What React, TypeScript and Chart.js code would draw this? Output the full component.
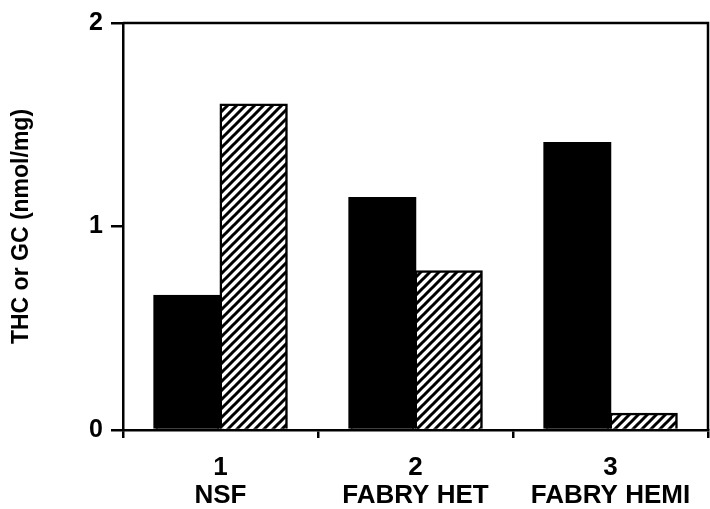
import { useEffect, useRef } from "react";
import { Chart, registerables } from "chart.js";

Chart.register(...registerables);

// Group labels (number over name) and the two measured lipids per group
const groupNumbers = ["1", "2", "3"];
const groupNames = ["NSF", "FABRY HET", "FABRY HEMI"];
const thcValues = [0.66, 1.14, 1.41];
const gcValues = [1.6, 0.78, 0.08];
const yTicks = [0, 1, 2];
const yTitle = "THC or GC (nmol/mg)";

const FONT = "'Liberation Sans', Arial, Helvetica, sans-serif";

// Diagonal "/" hatching used for the GC bars
function makeHatch(): CanvasPattern | string {
  const size = 9;
  const c = document.createElement("canvas");
  c.width = size;
  c.height = size;
  const ctx = c.getContext("2d");
  if (!ctx) return "#fff";
  ctx.fillStyle = "#fff";
  ctx.fillRect(0, 0, size, size);
  ctx.strokeStyle = "#000";
  ctx.lineWidth = 3;
  ctx.beginPath();
  for (const k of [0, size, 2 * size]) {
    ctx.moveTo(-3, k + 3);
    ctx.lineTo(k + 3, -3);
  }
  ctx.stroke();
  return ctx.createPattern(c, "repeat") || "#fff";
}

// Closes the plot box with top and right borders
const frame = {
  id: "frame",
  afterDraw(chart: any) {
    const { ctx, chartArea } = chart;
    ctx.save();
    ctx.strokeStyle = "#000";
    ctx.lineWidth = 2.5;
    ctx.beginPath();
    ctx.moveTo(chartArea.left, chartArea.top);
    ctx.lineTo(chartArea.right, chartArea.top);
    ctx.lineTo(chartArea.right, chartArea.bottom);
    ctx.stroke();
    ctx.restore();
  },
};

export default function App() {
  const ref = useRef<HTMLCanvasElement>(null);

  useEffect(() => {
    if (!ref.current) return;
    const hatch = makeHatch();
    const chart = new Chart(ref.current, {
      type: "bar",
      data: {
        labels: groupNumbers.map((n, i) => [n, groupNames[i]]),
        datasets: [
          {
            label: "THC",
            data: thcValues,
            backgroundColor: "#000",
            borderColor: "#000",
            borderWidth: 2.5,
            inflateAmount: 1,
            categoryPercentage: 0.68,
            barPercentage: 1,
          },
          {
            label: "GC",
            data: gcValues,
            backgroundColor: hatch as any,
            borderColor: "#000",
            borderWidth: 2.5,
            inflateAmount: 1,
            categoryPercentage: 0.68,
            barPercentage: 1,
          },
        ],
      },
      options: {
        responsive: false,
        animation: false,
        devicePixelRatio: 1,
        layout: { padding: { top: 21, right: 2, left: 0, bottom: 0 } },
        plugins: {
          legend: { display: false },
          tooltip: { enabled: false },
        },
        scales: {
          x: {
            grid: {
              display: true,
              offset: true,
              drawOnChartArea: false,
              drawTicks: true,
              tickLength: 8,
              color: "#000",
              lineWidth: 2.5,
            },
            border: { display: true, color: "#000", width: 2.5 },
            ticks: {
              color: "#000",
              font: { family: FONT, size: 26, weight: "bold", lineHeight: 1.08 },
              padding: 16,
              maxRotation: 0,
            },
            afterFit: (scale: any) => {
              scale.height = 79;
            },
          },
          y: {
            min: 0,
            max: 2,
            afterBuildTicks: (scale: any) => {
              scale.ticks = yTicks.map((v) => ({ value: v }));
            },
            grid: {
              display: true,
              drawOnChartArea: false,
              drawTicks: true,
              tickLength: 12,
              color: "#000",
              lineWidth: 2.5,
            },
            border: { display: true, color: "#000", width: 2.5 },
            ticks: {
              color: "#000",
              font: { family: FONT, size: 25, weight: "bold" },
              padding: 8,
            },
            title: {
              display: true,
              text: yTitle,
              color: "#000",
              font: { family: FONT, size: 23, weight: "bold" },
              padding: { top: 8, bottom: 0 },
            },
            afterFit: (scale: any) => {
              scale.width = 123;
            },
          },
        },
      },
      plugins: [frame],
    });
    return () => chart.destroy();
  }, []);

  return (
    <div style={{ position: "absolute", left: 0, top: 0, width: 710, height: 509, background: "#fff" }}>
      <canvas ref={ref} width={710} height={509} />
    </div>
  );
}
